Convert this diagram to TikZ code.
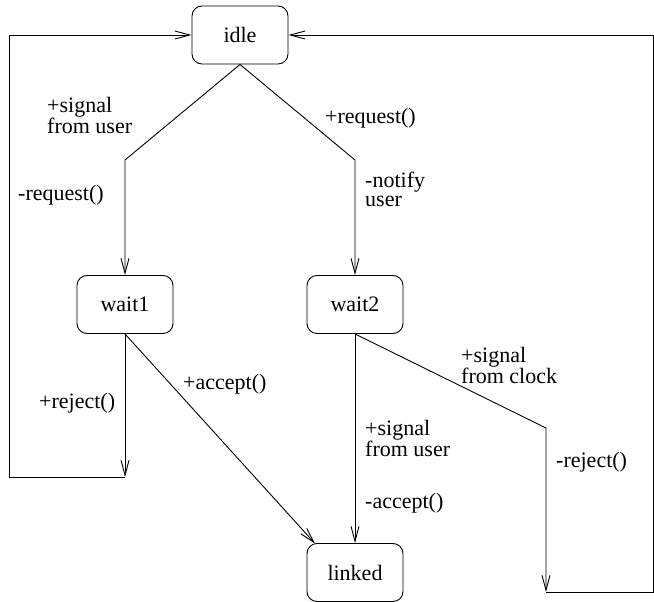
\documentclass[tikz,border=0pt]{standalone}
\usepackage{fontspec}
\setmainfont{Liberation Serif}
\usetikzlibrary{arrows.meta}
\begin{document}
\begin{tikzpicture}[x=1pt,y=-1pt,
  state/.style={draw, line width=0.9pt, rounded corners=10pt, minimum width=96pt, minimum height=58pt, inner sep=0pt, font=\fontsize{22}{19}\selectfont},
  lbl/.style={anchor=north west, inner sep=0pt, align=left, font=\fontsize{22}{19}\selectfont},
  conn/.style={line width=0.9pt},
  arr/.style={conn, -{Straight Barb[length=15pt,width=8pt]}}]
\useasboundingbox (0,0) rectangle (654,602);
\node[state] (idle) at (240,35) {idle};
\node[state] (wait1) at (125,304.5) {wait1};
\node[state] (wait2) at (355,304.5) {wait2};
\node[state] (linked) at (355,572.5) {linked};
% idle -> wait1
\coordinate (b1) at (125,160);
\draw[arr] (idle.south) -- (b1) -- (wait1.north);
% idle -> wait2
\coordinate (b2) at (355,160);
\draw[arr] (idle.south) -- (b2) -- (wait2.north);
% wait1 reject -> idle
\coordinate (c1) at (125,477);
\coordinate (c2) at (9,477);
\coordinate (c3) at (9,35);
\draw[arr] (wait1.south) -- (c1);
\draw[arr] (c1) -- (c2) -- (c3) -- (idle.west);
% wait1 accept -> linked
\coordinate (lk) at (315,543.5);
\draw[arr] (wait1.south) -- (lk);
% wait2 -> linked
\draw[arr] (wait2.south) -- (linked.north);
% wait2 clock -> idle
\coordinate (d1) at (546,428);
\coordinate (d2) at (546,592);
\coordinate (d3) at (653,592);
\coordinate (d4) at (653,35);
\draw[arr] (wait2.south) -- (d1) -- (d2);
\draw[arr] (d2) -- (d3) -- (d4) -- (idle.east);
% labels
\node[lbl] (l1) at (47,97) {+signal\\from user};
\node[lbl] (l2) at (18,185) {-request()};
\node[lbl] (l3) at (325,108) {+request()};
\node[lbl] (l4) at (365,172) {-notify\\user};
\node[lbl] (l5) at (39,393) {+reject()};
\node[lbl] (l6) at (183,374) {+accept()};
\node[lbl] (l7) at (461,347) {+signal\\from clock};
\node[lbl] (l8) at (365,420) {+signal\\from user};
\node[lbl] (l9) at (365,493) {-accept()};
\node[lbl] (l10) at (556,452) {-reject()};
\end{tikzpicture}
\end{document}
